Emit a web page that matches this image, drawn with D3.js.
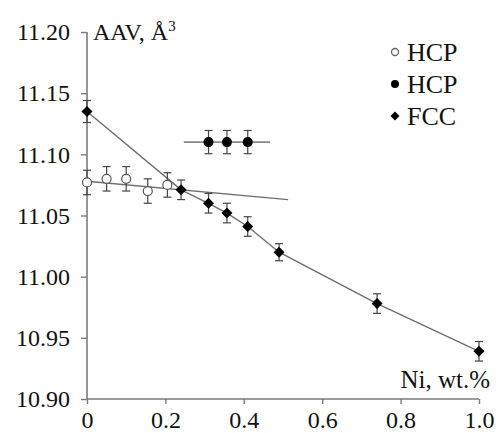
<!DOCTYPE html>
<html lang="en">
<head>
  <meta charset="UTF-8" />
  <script src="https://d3js.org/d3.v7.min.js"></script>
  <style>
    body { margin: 0; background: #fff; overflow: hidden; }
    svg { display: block; }
    svg text { font-family: "Liberation Serif"; }
  </style>
</head>
<body>
  <svg width="496" height="433"></svg>
  <script>
    // open HCP points
    const hcpOpenX = [0, 0.05, 0.10, 0.155, 0.205];
    const hcpOpenY = [11.077, 11.080, 11.080, 11.070, 11.075];
    const hcpOpenErr = [0.010, 0.010, 0.010, 0.010, 0.010];

    // filled HCP points
    const hcpX = [0.31, 0.357, 0.41];
    const hcpY = [11.110, 11.110, 11.110];
    const hcpErr = [0.0095, 0.0095, 0.0095];
    const hcpXErr = [0, 0.11, 0];

    // FCC points
    const fccX = [0, 0.24, 0.31, 0.357, 0.41, 0.49, 0.74, 1.0];
    const fccY = [11.135, 11.071, 11.060, 11.052, 11.041, 11.020, 10.978, 10.939];
    const fccErr = [0.009, 0.008, 0.008, 0.008, 0.008, 0.007, 0.008, 0.008];

    // fit line for open HCP
    const hcpFitX = [0, 0.513];
    const hcpFitY = [11.078, 11.063];

    const xTicks = [0, 0.2, 0.4, 0.6, 0.8, 1.0];
    const xTickLabels = ["0", "0.2", "0.4", "0.6", "0.8", "1.0"];
    const yTicks = [10.90, 10.95, 11.00, 11.05, 11.10, 11.15, 11.20];

    const legendItems = ["HCP", "HCP", "FCC"];

    const svg = d3.select("svg");
    const x = d3.scaleLinear().domain([0, 1]).range([87, 479]);
    const y = d3.scaleLinear().domain([10.9, 11.2]).range([399, 32]);

    const axisColor = "#7a7a7a";
    const lineColor = "#6e6e6e";

    // axes
    const xAxis = svg.append("g").attr("transform", "translate(0,399)")
      .call(d3.axisBottom(x).tickValues(xTicks).tickSize(5).tickPadding(7)
        .tickFormat((d, i) => xTickLabels[i]));
    const yAxis = svg.append("g").attr("transform", "translate(87,0)")
      .call(d3.axisLeft(y).tickValues(yTicks).tickSize(6).tickPadding(11)
        .tickFormat(d3.format(".2f")));
    [xAxis, yAxis].forEach(g => {
      g.attr("font-family", null).attr("font-size", null);
      g.select(".domain").attr("stroke", axisColor).attr("stroke-width", 1.6);
      g.selectAll(".tick line").attr("stroke", axisColor).attr("stroke-width", 1.4);
      g.selectAll(".tick text").style("font-size", "24px").attr("fill", "#111");
    });
    xAxis.select(".domain").attr("d", `M${x(0)},0H${x(1)}`);
    xAxis.selectAll(".tick text").attr("dy", "0.7em");
    yAxis.select(".domain").attr("d", `M0,${y(10.9)}V${y(11.2)}`);

    // axis titles
    const aav = svg.append("text").attr("x", 93).attr("y", 40)
      .style("font-size", "24px").attr("fill", "#111");
    aav.append("tspan").text("AAV, Å");
    aav.append("tspan").style("font-size", "15px").attr("dy", -9).text("3");
    svg.append("text").attr("x", 490).attr("y", 388).attr("text-anchor", "end")
      .style("font-size", "25px").attr("fill", "#111").text("Ni, wt.%");

    const line = d3.line().x(d => x(d[0])).y(d => y(d[1]));

    // lines
    svg.append("path").datum(hcpFitX.map((v, i) => [v, hcpFitY[i]]))
      .attr("d", line).attr("fill", "none").attr("stroke", lineColor).attr("stroke-width", 1.4);
    svg.append("path").datum(fccX.map((v, i) => [v, fccY[i]]))
      .attr("d", line).attr("fill", "none").attr("stroke", lineColor).attr("stroke-width", 1.4);
    // horizontal error bar on filled HCP
    hcpX.forEach((v, i) => {
      if (hcpXErr[i] > 0) {
        svg.append("line")
          .attr("x1", x(v - hcpXErr[i])).attr("x2", x(v + hcpXErr[i]))
          .attr("y1", y(hcpY[i])).attr("y2", y(hcpY[i]))
          .attr("stroke", "#888").attr("stroke-width", 1.6);
      }
    });

    function errBars(xs, ys, es) {
      xs.forEach((v, i) => {
        const cx = x(v), y1 = y(ys[i] - es[i]), y2 = y(ys[i] + es[i]);
        const g = svg.append("g").attr("stroke", "#444").attr("stroke-width", 1.2);
        g.append("line").attr("x1", cx).attr("x2", cx).attr("y1", y1).attr("y2", y2);
        g.append("line").attr("x1", cx - 4).attr("x2", cx + 4).attr("y1", y1).attr("y2", y1);
        g.append("line").attr("x1", cx - 4).attr("x2", cx + 4).attr("y1", y2).attr("y2", y2);
      });
    }
    errBars(hcpOpenX, hcpOpenY, hcpOpenErr);
    errBars(hcpX, hcpY, hcpErr);
    errBars(fccX, fccY, fccErr);

    const diamond = (cx, cy, r) => `M${cx},${cy - r}L${cx + r},${cy}L${cx},${cy + r}L${cx - r},${cy}Z`;

    // markers
    svg.selectAll(".open").data(hcpOpenX).join("circle")
      .attr("cx", d => x(d)).attr("cy", (d, i) => y(hcpOpenY[i])).attr("r", 4.5)
      .attr("fill", "#fff").attr("stroke", "#555").attr("stroke-width", 1.2);
    svg.selectAll(".hcp").data(hcpX).join("circle")
      .attr("cx", d => x(d)).attr("cy", (d, i) => y(hcpY[i])).attr("r", 5)
      .attr("fill", "#000");
    svg.selectAll(".fcc").data(fccX).join("path")
      .attr("d", (d, i) => diamond(x(d), y(fccY[i]), 5.5))
      .attr("fill", "#000");

    // legend
    const ly = [52, 84, 116];
    svg.append("circle").attr("cx", 395).attr("cy", ly[0]).attr("r", 3.5)
      .attr("fill", "#fff").attr("stroke", "#666").attr("stroke-width", 1.3);
    svg.append("circle").attr("cx", 395).attr("cy", ly[1]).attr("r", 4).attr("fill", "#000");
    svg.append("path").attr("d", diamond(395, ly[2], 4.5)).attr("fill", "#000");
    legendItems.forEach((t, i) => {
      svg.append("text").attr("x", 407).attr("y", ly[i] + 9)
        .style("font-size", "26px").attr("fill", "#111").text(t);
    });
  </script>
</body>
</html>
